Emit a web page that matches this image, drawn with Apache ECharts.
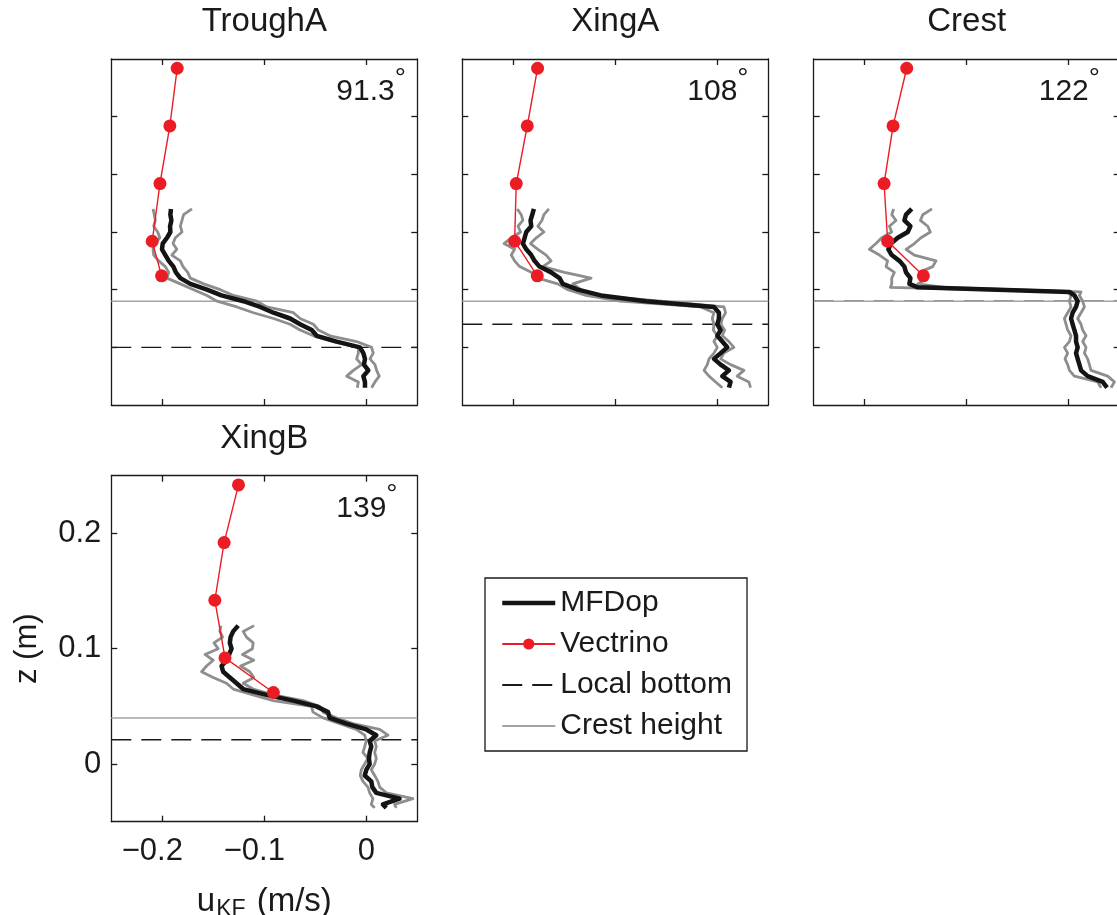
<!DOCTYPE html>
<html>
<head>
<meta charset="utf-8">
<script src="https://cdn.jsdelivr.net/npm/echarts@6/dist/echarts.min.js"></script>
<style>
  html, body { margin: 0; padding: 0; background: #fff; }
  #chart { width: 1117px; height: 915px; }
</style>
</head>
<body>
<div id="chart"></div>
<script>
// ---- Panel labels ----
const panelNames = ['TroughA', 'XingA', 'Crest', 'XingB'];
const panelAngles = ['91.3', '108', '122', '139'];

// ---- Tick values ----
const xTickValues = [-0.2, -0.1, 0];
const yTickValuesTop = [0, 0.05, 0.1, 0.15, 0.2];
const yTickValuesBottom = [0, 0.1, 0.2];

// ---- Reference levels (m) ----
const crestHeight = [0.04, 0.04, 0.04, 0.04];
const localBottom = [0.0, 0.02, 0.04, 0.021];

// ---- Vectrino profiles ----
const zVectrino = [0.242, 0.192, 0.142, 0.092, 0.062];
const uVectrinoTroughA = [-0.1854, -0.1926, -0.2023, -0.2099, -0.2007];
const uVectrinoXingA = [-0.1762, -0.1863, -0.1971, -0.1987, -0.1765];
const uVectrinoCrest = [-0.1588, -0.1722, -0.1810, -0.1775, -0.1425];
const uVectrinoXingB = [-0.1253, -0.1394, -0.1485, -0.1385, -0.0911];

// ---- MFDop profiles: mean and bounds ----
const zTroughA = [0.12, 0.115, 0.11, 0.105, 0.1, 0.095, 0.09, 0.085, 0.08, 0.075, 0.07, 0.065, 0.06, 0.055, 0.05, 0.045, 0.04, 0.035, 0.03, 0.025, 0.02, 0.015, 0.01, 0.005, 0, -0.005, -0.01, -0.015, -0.02, -0.025, -0.03, -0.035];
const uTroughA = [-0.1915, -0.1921, -0.1911, -0.1924, -0.1921, -0.1954, -0.1996, -0.2003, -0.1970, -0.1937, -0.1891, -0.1867, -0.1823, -0.1725, -0.1562, -0.1420, -0.1204, -0.1040, -0.0910, -0.0747, -0.0649, -0.0535, -0.0486, -0.0290, -0.0062, -0.0029, -0.0013, -0.0023, 0.0020, -0.0029, -0.0013, -0.0013];
const uTroughAHigh = [-0.1709, -0.1791, -0.1807, -0.1823, -0.1807, -0.1872, -0.1895, -0.1858, -0.1907, -0.1823, -0.1797, -0.1751, -0.1725, -0.1595, -0.1432, -0.1301, -0.1073, -0.0975, -0.0714, -0.0649, -0.0519, -0.0470, -0.0356, -0.0095, 0.0052, 0.0068, 0.0036, 0.0085, 0.0101, 0.0127, 0.0085, 0.0052];
const uTroughALow = [-0.2091, -0.2078, -0.2068, -0.2084, -0.2045, -0.2025, -0.2068, -0.2091, -0.2084, -0.2035, -0.1970, -0.1937, -0.1954, -0.1823, -0.1693, -0.1562, -0.1464, -0.1269, -0.1106, -0.0910, -0.0747, -0.0649, -0.0519, -0.0323, -0.0078, -0.0078, -0.0095, -0.0046, -0.0127, -0.0192, -0.0078, -0.0088];

const zXingA = [0.12, 0.115, 0.11, 0.105, 0.1, 0.095, 0.09, 0.085, 0.08, 0.075, 0.07, 0.065, 0.06, 0.055, 0.05, 0.045, 0.04, 0.035, 0.03, 0.025, 0.02, 0.015, 0.01, 0.005, 0, -0.005, -0.01, -0.015, -0.02, -0.025, -0.03, -0.035];
const uXingA = [-0.1798, -0.1814, -0.1831, -0.1824, -0.1873, -0.1889, -0.1906, -0.1873, -0.1824, -0.1792, -0.1743, -0.1629, -0.1547, -0.1515, -0.1368, -0.1140, -0.0700, -0.0033, 0.0016, 0.0016, 0.0000, 0.0033, 0.0000, 0.0049, 0.0098, 0.0033, -0.0033, 0.0033, 0.0114, 0.0049, 0.0130, 0.0114];
const uXingAHigh = [-0.1651, -0.1700, -0.1720, -0.1759, -0.1700, -0.1775, -0.1831, -0.1759, -0.1678, -0.1629, -0.1710, -0.1498, -0.1238, -0.1417, -0.1336, -0.1205, -0.0554, 0.0065, 0.0081, 0.0049, 0.0033, 0.0072, 0.0049, 0.0114, 0.0163, 0.0065, 0.0033, 0.0130, 0.0261, 0.0195, 0.0309, 0.0326];
const uXingALow = [-0.1961, -0.1922, -0.1906, -0.1954, -0.1928, -0.2020, -0.2091, -0.1987, -0.2020, -0.1987, -0.1938, -0.1824, -0.1759, -0.1564, -0.1466, -0.1287, -0.0950, -0.0163, -0.0033, -0.0049, -0.0033, -0.0039, 0.0000, -0.0033, 0.0000, -0.0033, -0.0081, -0.0098, -0.0130, -0.0081, -0.0016, 0.0049];

const zCrest = [0.12, 0.115, 0.11, 0.105, 0.1, 0.095, 0.09, 0.085, 0.08, 0.075, 0.07, 0.065, 0.06, 0.055, 0.052, 0.048, 0.045, 0.04, 0.035, 0.03, 0.025, 0.02, 0.015, 0.01, 0.005, 0, -0.005, -0.01, -0.015, -0.02, -0.025, -0.03, -0.035];
const uCrest = [-0.1539, -0.1595, -0.1611, -0.1552, -0.1578, -0.1676, -0.1742, -0.1768, -0.1735, -0.1660, -0.1611, -0.1595, -0.1552, -0.1562, -0.1480, 0.0007, 0.0056, 0.0088, 0.0072, 0.0039, 0.0023, 0.0039, 0.0056, 0.0072, 0.0072, 0.0088, 0.0072, 0.0088, 0.0105, 0.0121, 0.0186, 0.0333, 0.0376];
const uCrestHigh = [-0.1340, -0.1431, -0.1454, -0.1382, -0.1356, -0.1448, -0.1513, -0.1595, -0.1513, -0.1301, -0.1333, -0.1464, -0.1382, -0.1480, -0.1219, 0.0121, 0.0105, 0.0137, 0.0154, 0.0121, 0.0088, 0.0121, 0.0137, 0.0170, 0.0137, 0.0170, 0.0154, 0.0186, 0.0203, 0.0219, 0.0382, 0.0448, 0.0415];
const uCrestLow = [-0.1716, -0.1735, -0.1693, -0.1758, -0.1735, -0.1833, -0.1889, -0.1954, -0.1856, -0.1775, -0.1791, -0.1709, -0.1735, -0.1735, -0.1748, -0.0010, 0.0023, 0.0007, 0.0023, -0.0010, -0.0042, -0.0026, -0.0010, 0.0023, 0.0007, -0.0042, -0.0010, -0.0036, -0.0010, 0.0007, 0.0056, 0.0284, 0.0317];

const zXingB = [0.12, 0.115, 0.11, 0.105, 0.1, 0.095, 0.09, 0.085, 0.08, 0.075, 0.07, 0.065, 0.06, 0.055, 0.05, 0.045, 0.04, 0.035, 0.03, 0.025, 0.02, 0.015, 0.01, 0.005, 0, -0.005, -0.01, -0.015, -0.02, -0.025, -0.03, -0.035, -0.038];
const uXingB = [-0.1256, -0.1305, -0.1331, -0.1338, -0.1321, -0.1344, -0.1370, -0.1419, -0.1403, -0.1338, -0.1272, -0.1207, -0.0979, -0.0718, -0.0489, -0.0375, -0.0359, -0.0196, 0.0000, 0.0098, 0.0033, 0.0049, 0.0033, 0.0026, 0.0033, 0.0000, -0.0016, 0.0049, 0.0059, 0.0098, 0.0326, 0.0163, 0.0196];
const uXingBHigh = [-0.1100, -0.1207, -0.1175, -0.1109, -0.1116, -0.1214, -0.1103, -0.1233, -0.1142, -0.1103, -0.1207, -0.1109, -0.0914, -0.0620, -0.0457, -0.0424, -0.0294, -0.0131, 0.0131, 0.0212, 0.0082, 0.0098, 0.0082, 0.0098, 0.0082, 0.0049, 0.0082, 0.0114, 0.0131, 0.0196, 0.0457, 0.0277, 0.0294];
const uXingBLow = [-0.1426, -0.1436, -0.1409, -0.1494, -0.1452, -0.1582, -0.1501, -0.1566, -0.1615, -0.1501, -0.1370, -0.1305, -0.1109, -0.0914, -0.0538, -0.0522, -0.0424, -0.0261, -0.0098, -0.0016, 0.0000, -0.0016, -0.0033, 0.0016, -0.0016, -0.0049, -0.0059, -0.0033, 0.0016, 0.0033, 0.0065, 0.0049, 0.0082];

// ---- Layout and styling ----
const FONT = '"Liberation Sans", Arial, Helvetica, sans-serif';
const INK = '#1a1a1a';
const X_MIN = -0.25, X_MAX = 0.05, Y_MIN = -0.05, Y_MAX = 0.25;
const PANEL_W = 306, PANEL_H = 346;
const panelBoxes = [
  { left: 111.3, top: 59 },
  { left: 462.3, top: 59 },
  { left: 813.7, top: 59 },
  { left: 111.3, top: 475.7 }
];

const profiles = [
  { z: zTroughA, u: uTroughA, lo: uTroughALow, hi: uTroughAHigh, vec: uVectrinoTroughA },
  { z: zXingA, u: uXingA, lo: uXingALow, hi: uXingAHigh, vec: uVectrinoXingA },
  { z: zCrest, u: uCrest, lo: uCrestLow, hi: uCrestHigh, vec: uVectrinoCrest },
  { z: zXingB, u: uXingB, lo: uXingBLow, hi: uXingBHigh, vec: uVectrinoXingB }
];

function fmtTick(v) {
  if (v === 0) return '0';
  return v < 0 ? '{n|\u2212' + String(Math.abs(v)) + '}' : String(v);
}

function pairs(us, zs) {
  return us.map((u, k) => [u, zs[k]]);
}

// Fixed panel rectangles; labels may sit outside them
const grid = panelBoxes.map(b => ({
  left: b.left, top: b.top, width: PANEL_W, height: PANEL_H,
  containLabel: false, outerBoundsMode: 'none'
}));

const xAxis = [];
const yAxis = [];
panelBoxes.forEach((b, i) => {
  const labelled = i === 3;
  const yTicks = labelled ? yTickValuesBottom : yTickValuesTop;
  ['bottom', 'top'].forEach(pos => {
    const ax = {
      type: 'value', gridIndex: i, position: pos, min: X_MIN, max: X_MAX,
      axisLine: { show: true, onZero: false, lineStyle: { color: INK, width: 1.3 } },
      axisTick: { show: true, inside: true, length: 6, customValues: xTickValues, lineStyle: { color: INK, width: 1.3 } },
      axisLabel: {
        show: labelled && pos === 'bottom', customValues: xTickValues, formatter: fmtTick,
        margin: 14, fontSize: 31, fontFamily: FONT, color: INK,
        rich: { n: { fontSize: 31, fontFamily: FONT, color: INK, padding: [0, 20, 0, 0] } }
      },
      splitLine: { show: false }
    };
    if (labelled && pos === 'bottom') {
      ax.name = '{a|u}{b|KF}{a| (m/s)}';
      ax.nameLocation = 'middle';
      ax.nameGap = 49;
      ax.nameTextStyle = {
        fontFamily: FONT, color: INK,
        rich: {
          a: { fontSize: 33, fontFamily: FONT, color: INK, lineHeight: 36, verticalAlign: 'top' },
          b: { fontSize: 23, fontFamily: FONT, color: INK, lineHeight: 23, padding: [31, 2, 0, 1], verticalAlign: 'bottom' }
        }
      };
    }
    xAxis.push(ax);
  });
  ['left', 'right'].forEach(pos => {
    const ax = {
      type: 'value', gridIndex: i, position: pos, min: Y_MIN, max: Y_MAX,
      axisLine: { show: true, onZero: false, lineStyle: { color: INK, width: 1.3 } },
      axisTick: { show: true, inside: true, length: 6, customValues: yTicks, lineStyle: { color: INK, width: 1.3 } },
      axisLabel: { show: labelled && pos === 'left', customValues: yTicks, formatter: fmtTick, margin: 10, fontSize: 31, fontFamily: FONT, color: INK },
      splitLine: { show: false }
    };
    if (labelled && pos === 'left') {
      ax.name = 'z (m)';
      ax.nameLocation = 'middle';
      ax.nameGap = 68;
      ax.nameTextStyle = { fontSize: 31, fontFamily: FONT, color: INK };
    }
    yAxis.push(ax);
  });
});

const series = [];
profiles.forEach((p, i) => {
  const axes = { xAxisIndex: 2 * i, yAxisIndex: 2 * i };
  series.push({
    name: 'Local bottom', type: 'line', ...axes, symbol: 'none', silent: true, z: 1,
    data: [[X_MIN, localBottom[i]], [X_MAX, localBottom[i]]],
    color: INK, lineStyle: { color: INK, width: 1.4, type: [20, 10] }
  });
  series.push({
    name: 'Crest height', type: 'line', ...axes, symbol: 'none', silent: true, z: 2,
    data: [[X_MIN, crestHeight[i]], [X_MAX, crestHeight[i]]],
    color: '#a3a3a3', lineStyle: { color: '#a3a3a3', width: 1.5 }
  });
  [p.lo, p.hi].forEach(band => {
    series.push({
      name: 'MFDop range', type: 'line', ...axes, symbol: 'none', silent: true, z: 3,
      data: pairs(band, p.z),
      color: '#8e8e8e', lineStyle: { color: '#8e8e8e', width: 2.8, join: 'round' }
    });
  });
  series.push({
    name: 'MFDop', type: 'line', ...axes, symbol: 'none', silent: true, z: 4,
    data: pairs(p.u, p.z),
    color: '#141414', lineStyle: { color: '#141414', width: 4.5, join: 'round' }
  });
  series.push({
    name: 'Vectrino', type: 'line', ...axes, symbol: 'circle', symbolSize: 13, silent: true, z: 5,
    data: pairs(p.vec, zVectrino),
    color: '#ec1c24', itemStyle: { color: '#ec1c24' }, lineStyle: { color: '#ec1c24', width: 1.4 }
  });
});

const graphic = [];
panelBoxes.forEach((b, i) => {
  graphic.push({
    type: 'text', x: b.left + PANEL_W / 2, y: b.top - 37, silent: true,
    style: { text: panelNames[i], fontSize: 33, fontFamily: FONT, fill: INK, align: 'center', verticalAlign: 'middle' }
  });
  graphic.push({
    type: 'text', x: b.left + 225, y: b.top + 27, silent: true,
    style: {
      text: '{v|' + panelAngles[i] + '}{d|\u00b0}',
      align: 'left', verticalAlign: 'middle',
      rich: {
        v: { fontSize: 30, fontFamily: FONT, fill: INK, lineHeight: 42, verticalAlign: 'bottom' },
        d: { fontSize: 28, fontFamily: FONT, fill: INK, lineHeight: 28, verticalAlign: 'top', padding: [0, 0, 0, 0] }
      }
    }
  });
});

const option = {
  animation: false,
  backgroundColor: '#fff',
  grid, xAxis, yAxis, series, graphic,
  legend: {
    orient: 'vertical', left: 485, top: 578,
    padding: [10, 15, 10, 15],
    itemWidth: 53, itemHeight: 14, itemGap: 11,
    borderColor: INK, borderWidth: 1.3, backgroundColor: '#fff',
    selectedMode: false,
    textStyle: { fontSize: 30, fontFamily: FONT, color: INK, lineHeight: 30 },
    data: [
      { name: 'MFDop', itemStyle: { opacity: 0 }, lineStyle: { width: 4.5 } },
      { name: 'Vectrino' },
      { name: 'Local bottom', itemStyle: { opacity: 0 } },
      { name: 'Crest height', itemStyle: { opacity: 0 } }
    ]
  }
};

const chart = echarts.init(document.getElementById('chart'), null, { renderer: 'canvas' });
chart.setOption(option);
</script>
</body>
</html>
